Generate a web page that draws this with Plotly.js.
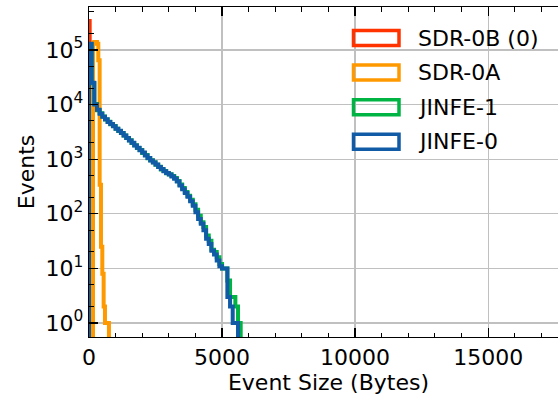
<!DOCTYPE html>
<html>
<head>
<meta charset="utf-8">
<script src="https://cdn.plot.ly/plotly-3.0.1.min.js"></script>
<style>
  html, body { margin: 0; padding: 0; overflow: hidden; background: #fff; }
  #chart { width: 568px; height: 395px; }
</style>
</head>
<body>
<div id="chart"></div>
<script>
// ---- Data ----
const seriesNames = ["SDR-0B (0)", "SDR-0A", "JINFE-1", "JINFE-0"];
const seriesColors = ["#ff3300", "#ff9900", "#00b444", "#115aa6"];

// SDR-0B (0): bin width 25 bytes
const sdr0bBinWidth = 25;
const sdr0bCounts = [340000];

// SDR-0A: bin width 50 bytes
const sdr0aBinWidth = 50;
const sdr0aCounts = [0, 0, 0, 135000, 140000, 140000, 130000, 65000, 340, 25, 8, 2, 1, 1, 1];

// JINFE-1: bin width 100 bytes
const jinfe1BinWidth = 100;
const jinfe1Counts = [
  128000, 24500, 10200, 7900, 6900, 6050, 5350, 4850, 4350, 4050,
  3620, 3280, 3020, 2720, 2430, 2230, 1980, 1800, 1600, 1470,
  1300, 1190, 1040, 960, 880, 790, 730, 650, 610, 550,
  530, 490, 450, 400, 345, 295, 250, 215, 180, 150,
  118, 92, 70, 57, 40, 32, 22, 20, 16, 12,
  10, 10, 6, 3, 3, 2, 1
];

// JINFE-0: bin width 100 bytes
const jinfe0BinWidth = 100;
const jinfe0Counts = [
  130000, 25000, 10000, 8000, 6800, 6000, 5400, 4800, 4400, 4000,
  3600, 3300, 3000, 2700, 2450, 2200, 2000, 1780, 1620, 1450,
  1320, 1170, 1050, 950, 870, 800, 720, 660, 600, 560,
  525, 480, 440, 390, 330, 280, 240, 205, 170, 140,
  107, 80, 66, 50, 35, 28, 21, 18, 14, 11,
  10, 10, 3, 2, 1, 1
];

const xTickVals = [0, 5000, 10000, 15000];
const yExponents = [0, 1, 2, 3, 4, 5];

// ---- Build step outlines from bins ----
const FLOOR = 1e-3; // zero counts drop below the visible log range
function stepTrace(counts, width, name, color) {
  const x = [0], y = [FLOOR];
  counts.forEach((c, i) => { x.push(i * width); y.push(c > 0 ? c : FLOOR); });
  x.push(counts.length * width); y.push(FLOOR);
  return {
    type: "scatter", mode: "lines", name: name, x: x, y: y,
    line: { shape: "hv", color: color, width: 4 },
    showlegend: false, hoverinfo: "skip"
  };
}

const traces = [
  stepTrace(sdr0bCounts, sdr0bBinWidth, seriesNames[0], seriesColors[0]),
  stepTrace(sdr0aCounts, sdr0aBinWidth, seriesNames[1], seriesColors[1]),
  stepTrace(jinfe1Counts, jinfe1BinWidth, seriesNames[2], seriesColors[2]),
  stepTrace(jinfe0Counts, jinfe0BinWidth, seriesNames[3], seriesColors[3])
];

// ---- Layout ----
const W = 568, H = 395;
const M = { l: 89, r: 0, t: 7, b: 58 };
const plotW = W - M.l - M.r, plotH = H - M.t - M.b;
const px = (p) => (p - M.l) / plotW;
const py = (p) => (M.t + plotH - p) / plotH;

const FONT = "DejaVu Sans";
const shapes = [], annotations = [];
const legendRowY = [38, 72.6, 107.2, 141.8];
seriesNames.forEach((n, i) => {
  const cy = legendRowY[i];
  shapes.push({
    type: "rect", xref: "paper", yref: "paper",
    x0: px(353.5), x1: px(399), y0: py(cy - 7.5), y1: py(cy + 7.5),
    line: { color: seriesColors[i], width: 3.5 }, fillcolor: "rgba(0,0,0,0)"
  });
  annotations.push({
    xref: "paper", yref: "paper", x: px(416), y: py(cy),
    xanchor: "left", yanchor: "middle", showarrow: false,
    text: n, font: { family: FONT, size: 22, color: "#000" }
  });
});

const layout = {
  width: W, height: H,
  margin: M,
  paper_bgcolor: "#fff", plot_bgcolor: "#fff",
  font: { family: FONT, size: 22, color: "#000" },
  showlegend: false,
  xaxis: {
    range: [0, 18000],
    tickmode: "array", tickvals: xTickVals, ticktext: xTickVals.map(String),
    ticks: "inside", ticklen: 9, tickwidth: 1.3, tickcolor: "#000",
    minor: { dtick: 1000, tick0: 0, ticks: "inside", ticklen: 4.5, tickwidth: 1, tickcolor: "#000", showgrid: false },
    showgrid: true, gridcolor: "#c0c0c0", gridwidth: 1.3,
    showline: true, linecolor: "#000", linewidth: 1.3, mirror: "allticks",
    zeroline: false,
    tickfont: { family: FONT, size: 22, color: "#000" },
    title: { text: "Event Size (Bytes)", font: { family: FONT, size: 22, color: "#000" }, standoff: 6 }
  },
  yaxis: {
    type: "log",
    range: [-0.256, 5.786],
    tickmode: "array",
    tickvals: yExponents.map(e => Math.pow(10, e)),
    ticktext: yExponents.map(e => "10<sup>" + e + "</sup>"),
    ticks: "inside", ticklen: 9, tickwidth: 1.3, tickcolor: "#000",
    minor: { ticks: "inside", ticklen: 4.5, tickwidth: 1, tickcolor: "#000", showgrid: false },
    showgrid: true, gridcolor: "#c0c0c0", gridwidth: 1.3,
    showline: true, linecolor: "#000", linewidth: 1.3, mirror: "allticks",
    zeroline: false,
    tickfont: { family: FONT, size: 22, color: "#000" },
    title: { text: "Events", font: { family: FONT, size: 22, color: "#000" }, standoff: 4 }
  },
  shapes: shapes,
  annotations: annotations
};

Plotly.newPlot("chart", traces, layout, { displayModeBar: false, staticPlot: true });
</script>
</body>
</html>
